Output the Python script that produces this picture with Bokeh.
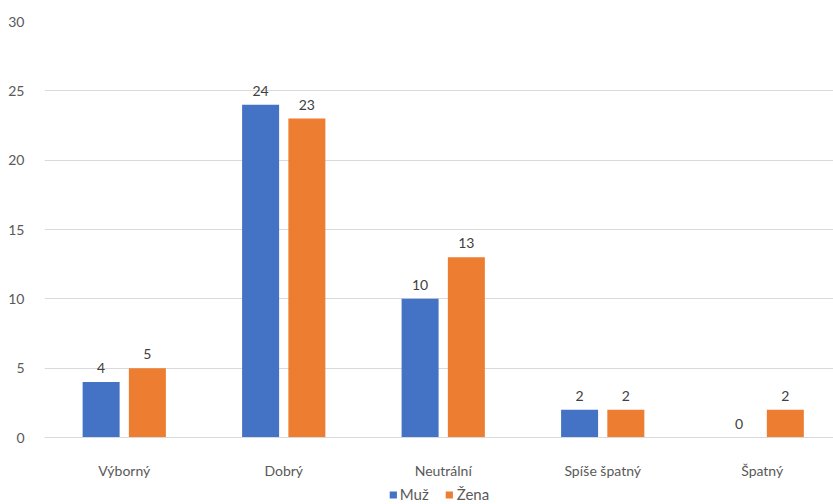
from bokeh.plotting import figure
from bokeh.layouts import column
from bokeh.models import ColumnDataSource, Range1d, FixedTicker, LabelSet, Legend, LegendItem
from bokeh.core.properties import value
from bokeh.transform import dodge
from bokeh.embed import file_html
from bokeh.resources import INLINE

categories = ["Výborný", "Dobrý", "Neutrální", "Spíše špatný", "Špatný"]
series = ["Muž", "Žena"]
muz = [4, 24, 10, 2, 0]
zena = [5, 23, 13, 2, 2]
y_ticks = [0, 5, 10, 15, 20, 25, 30]

BLUE = "#4472C4"
ORANGE = "#ED7D31"
FONT = "Lato"

idx = list(range(len(categories)))
src = ColumnDataSource(dict(x=idx, muz=muz, zena=zena,
                            muz_t=[str(v) for v in muz], zena_t=[str(v) for v in zena]))

p = figure(width=833, height=484, output_backend="svg", toolbar_location=None,
           x_range=Range1d(-0.5, 4.447), y_range=Range1d(0, 30),
           min_border_left=44, min_border_right=0, min_border_top=21, min_border_bottom=47)
p.outline_line_color = None
p.background_fill_color = "white"
p.border_fill_color = "white"

w = 0.232
off = 0.145
p.vbar(x=dodge("x", -off), top="muz", width=w, source=src, fill_color=BLUE, line_color=None)
p.vbar(x=dodge("x", off), top="zena", width=w, source=src, fill_color=ORANGE, line_color=None)

for col, txt, o in (("muz", "muz_t", -off), ("zena", "zena_t", off)):
    p.add_layout(LabelSet(x=dodge("x", o), y=col, text=txt, source=src,
                          text_align="center", text_baseline="alphabetic", y_offset=9,
                          text_font=value(FONT), text_font_size="14px", text_color="#404040"))

p.xaxis.ticker = FixedTicker(ticks=idx)
p.xaxis.major_label_overrides = {i: c for i, c in enumerate(categories)}
p.xaxis.axis_line_color = "#D9D9D9"
p.xaxis.major_tick_line_color = None
p.xaxis.minor_tick_line_color = None
p.xaxis.major_label_standoff = 18
p.xaxis.major_label_text_font = FONT
p.xaxis.major_label_text_font_size = "14px"
p.xaxis.major_label_text_color = "#595959"

p.yaxis.ticker = FixedTicker(ticks=y_ticks)
p.yaxis.axis_line_color = None
p.yaxis.major_tick_line_color = None
p.yaxis.minor_tick_line_color = None
p.yaxis.major_label_standoff = 14
p.yaxis.major_label_text_font = FONT
p.yaxis.major_label_text_font_size = "14px"
p.yaxis.major_label_text_color = "#595959"

p.xgrid.grid_line_color = None
p.ygrid.ticker = FixedTicker(ticks=y_ticks)
p.ygrid.grid_line_color = "#D9D9D9"
p.ygrid.grid_line_width = 1

# legend strip
lf = figure(width=833, height=20, output_backend="svg", toolbar_location=None,
            x_axis_type=None, y_axis_type=None, x_range=Range1d(0, 1), y_range=Range1d(0, 1),
            min_border_left=36, min_border_right=0, min_border_top=0, min_border_bottom=0)
lf.outline_line_color = None
lf.xgrid.grid_line_color = None
lf.ygrid.grid_line_color = None
offscreen = ColumnDataSource(dict(x=[5], top=[1]))
g1 = lf.vbar(x="x", top="top", width=0.1, source=offscreen, fill_color=BLUE, line_color=None)
g2 = lf.vbar(x="x", top="top", width=0.1, source=offscreen, fill_color=ORANGE, line_color=None)
legend = Legend(items=[LegendItem(label=series[0], renderers=[g1]), LegendItem(label=series[1], renderers=[g2])],
                orientation="horizontal", location="center",
                label_text_font=FONT, label_text_font_size="15px", label_text_color="#595959",
                label_height=15, glyph_width=9, glyph_height=9, label_standoff=3, spacing=16,
                padding=0, margin=0, border_line_color=None, background_fill_alpha=0)
lf.add_layout(legend)

layout = column(p, lf, spacing=0)
open("out.html", "w").write(file_html(layout, INLINE))
